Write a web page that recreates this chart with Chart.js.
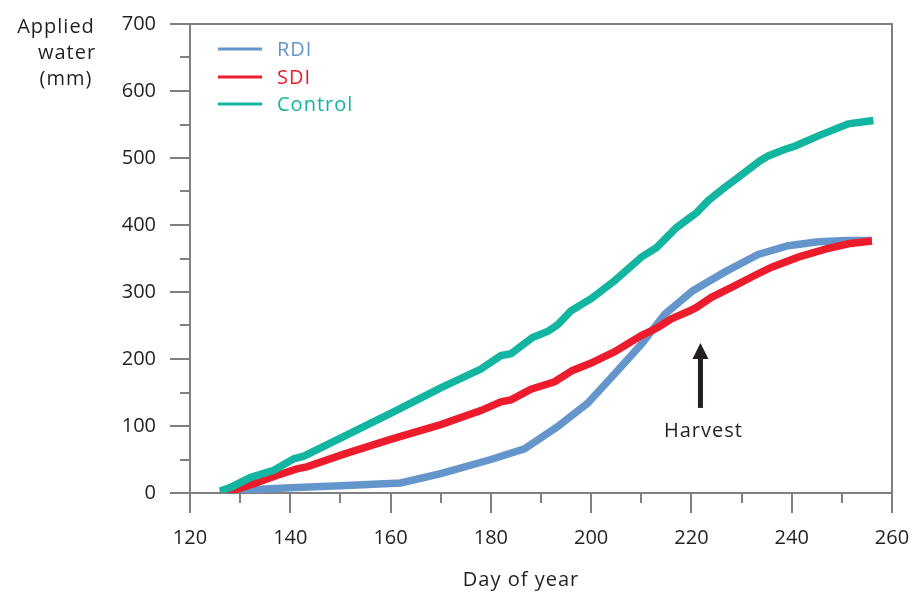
<!DOCTYPE html>
<html><head><meta charset="utf-8">
<script src="https://cdn.jsdelivr.net/npm/chart.js@4.4.1/dist/chart.umd.min.js"></script>
<style>html,body{margin:0;padding:0;background:#fff;}#wrap{width:915px;height:592px;}</style>
</head><body><div id="wrap"><canvas id="c" width="915" height="592"></canvas></div>
<script>
const xTicks = [120, 140, 160, 180, 200, 220, 240, 260];
const yTicks = [0, 100, 200, 300, 400, 500, 600, 700];
const seriesNames = ['RDI', 'SDI', 'Control'];

const rdiDays  = [126, 130, 140, 150, 162, 170, 180, 186.7, 193.3, 199.3, 204.7, 210, 214.7, 220.3, 226.7, 233.3, 239.3, 245.3, 251, 256];
const rdiWater = [0, 4, 8, 11, 15, 29, 50, 66, 99, 134, 178, 222, 267, 302, 330, 356, 369, 375, 377, 377];

const sdiDays  = [126, 128, 132.7, 137.3, 141.3, 143.3, 150.7, 160, 170, 178, 182, 184, 188, 192.7, 196.3, 200, 204.7, 210, 213.3, 216, 219.7, 221, 224, 228, 232.7, 236, 241.3, 246.7, 251.3, 256];
const sdiWater = [0, 2, 14, 26, 36, 39, 58, 80, 102, 123, 136, 139, 155, 166, 183, 194, 211, 235, 247, 260, 272, 277, 292, 307, 325, 337, 352, 364, 372, 376];

const ctrlDays  = [126, 128.3, 132, 136.7, 140.7, 142.7, 150, 160, 170, 178, 182, 184, 188.3, 191.3, 193.3, 196, 200, 204.7, 210, 213, 215, 217, 219.7, 221, 223.3, 226.3, 229.3, 233.7, 235.3, 238.7, 240.7, 245.3, 251.3, 256.3];
const ctrlWater = [3, 9, 23, 34, 51, 55, 82, 119, 157, 185, 205, 208, 232, 241, 251, 272, 290, 317, 352, 366, 381, 396, 411, 418, 436, 454, 471, 496, 503, 513, 518, 533, 551, 556];

const harvestDay = 221.8;
const harvestArrow = [127, 224];
const harvestLabel = 'Harvest';
const xTitle = 'Day of year';
const yTitle = ['Applied', 'water', '(mm)'];

const colors = ['#6496cb', '#ec1c2c', '#12b5a0'];
const TXT = '#231f20';
const AX = '#808080';
const FONT = '"Open Sans", "Noto Sans", sans-serif';

function pts(d, v) { return d.map((x, i) => ({ x: x, y: v[i] })); }

const decor = {
  id: 'decor',
  beforeDatasetsDraw(chart) {
    const { ctx, chartArea: a, scales: { x, y } } = chart;
    ctx.save();
    ctx.strokeStyle = AX; ctx.lineWidth = 2; ctx.lineCap = 'butt';
    ctx.strokeRect(a.left, a.top, a.right - a.left, a.bottom - a.top);
    ctx.beginPath();
    for (let v = yTicks[0]; v <= yTicks[yTicks.length - 1]; v += 50) {
      const py = Math.round(y.getPixelForValue(v));
      const len = yTicks.includes(v) ? 20 : 10;
      ctx.moveTo(a.left - len, py); ctx.lineTo(a.left, py);
    }
    for (let d = xTicks[0]; d <= xTicks[xTicks.length - 1]; d += 10) {
      const px = Math.round(x.getPixelForValue(d));
      const len = xTicks.includes(d) ? 20 : 10;
      ctx.moveTo(px, a.bottom); ctx.lineTo(px, a.bottom + len);
    }
    ctx.stroke();
    ctx.restore();
  },
  afterDatasetsDraw(chart) {
    const { ctx, chartArea: a, scales: { x, y } } = chart;
    ctx.save();
    const hx = x.getPixelForValue(harvestDay);
    const yb = y.getPixelForValue(harvestArrow[0]);
    const yt = y.getPixelForValue(harvestArrow[1]);
    ctx.fillStyle = TXT;
    ctx.fillRect(hx - 2.5, yt + 14, 5, yb - yt - 14);
    ctx.beginPath();
    ctx.moveTo(hx, yt); ctx.lineTo(hx + 8, yt + 16); ctx.lineTo(hx - 8, yt + 16); ctx.closePath(); ctx.fill();
    ctx.font = '20px ' + FONT;
    ctx.letterSpacing = '1px';
    ctx.textAlign = 'center'; ctx.textBaseline = 'alphabetic';
    ctx.fillText(harvestLabel, hx + 3, 437);
    ctx.fillText(xTitle, 521, 586);
    ctx.fillText(yTitle[0], 56, 33);
    ctx.fillText(yTitle[1], 67, 59);
    ctx.fillText(yTitle[2], 66, 85);
    ctx.textAlign = 'left';
    const rows = [49, 77, 104];
    chart.data.datasets.forEach((ds, i) => {
      ctx.strokeStyle = ds.borderColor; ctx.lineWidth = 3;
      ctx.beginPath(); ctx.moveTo(218, rows[i]); ctx.lineTo(262, rows[i]); ctx.stroke();
      ctx.fillStyle = ds.borderColor;
      ctx.fillText(ds.label, 277, rows[i] + 7);
    });
    ctx.restore();
  }
};

new Chart(document.getElementById('c'), {
  type: 'line',
  data: {
    datasets: [
      { label: seriesNames[0], data: pts(rdiDays, rdiWater), borderColor: colors[0], order: 2 },
      { label: seriesNames[1], data: pts(sdiDays, sdiWater), borderColor: colors[1], order: 1 },
      { label: seriesNames[2], data: pts(ctrlDays, ctrlWater), borderColor: colors[2], order: 0 }
    ]
  },
  options: {
    responsive: false,
    animation: false,
    events: [],
    elements: { line: { borderWidth: 7.5, tension: 0, borderCapStyle: 'butt', borderJoinStyle: 'miter' }, point: { radius: 0 } },
    layout: { autoPadding: false, padding: { top: 24, right: 23, left: 0, bottom: 0 } },
    plugins: { legend: { display: false }, tooltip: { enabled: false } },
    scales: {
      x: {
        type: 'linear', min: xTicks[0], max: xTicks[xTicks.length - 1],
        afterBuildTicks: s => { s.ticks = xTicks.map(v => ({ value: v })); },
        afterFit: s => { s.height = 99; s.paddingLeft = 0; s.paddingRight = 0; },
        grid: { display: false, drawTicks: false },
        border: { display: false },
        ticks: { color: TXT, font: { family: FONT, size: 20 }, padding: 33, maxRotation: 0, autoSkip: false }
      },
      y: {
        type: 'linear', min: yTicks[0], max: yTicks[yTicks.length - 1],
        afterBuildTicks: s => { s.ticks = yTicks.map(v => ({ value: v })); },
        afterFit: s => { s.width = 190; s.paddingTop = 0; s.paddingBottom = 0; },
        grid: { display: false, drawTicks: false },
        border: { display: false },
        ticks: { color: TXT, font: { family: FONT, size: 20 }, padding: 34, autoSkip: false }
      }
    }
  },
  plugins: [decor]
});
</script></body></html>
